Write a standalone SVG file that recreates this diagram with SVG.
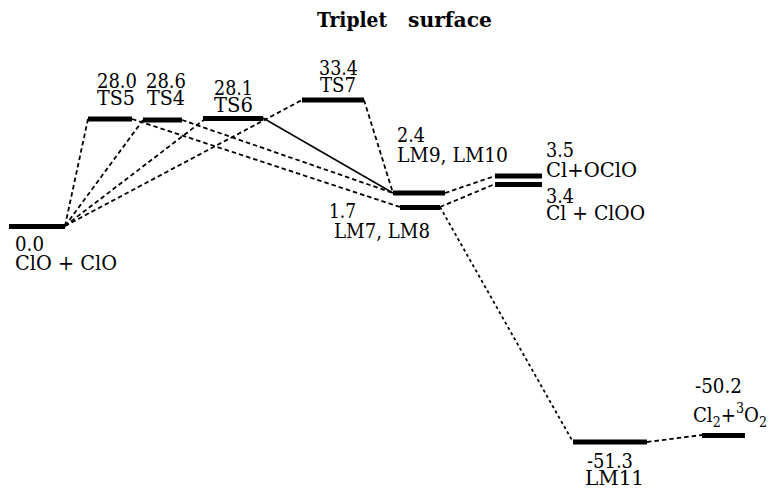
<svg xmlns="http://www.w3.org/2000/svg" width="771" height="489" viewBox="0 0 771 489">
<style>
text{font-family:'DejaVu Serif','Liberation Serif',serif;font-size:20px;fill:#000}
.title{font-weight:bold;font-size:20px}
.bar{stroke:#000;stroke-width:5;fill:none}
.d{stroke:#000;stroke-width:1.8;fill:none;stroke-dasharray:4.5 3}
.dot{stroke:#000;stroke-width:1.8;fill:none;stroke-dasharray:3 3}
.s{stroke:#000;stroke-width:1.5;fill:none}
</style>
<rect width="771" height="489" fill="#fff"/>
<text class="title" y="27"><tspan x="317" textLength="70" lengthAdjust="spacingAndGlyphs">Triplet</tspan><tspan x="408" textLength="84" lengthAdjust="spacingAndGlyphs">surface</tspan></text>
<g id="connectors">
<line class="d" x1="65" y1="226" x2="88" y2="119"/>
<line class="d" x1="65" y1="226" x2="143" y2="120"/>
<line class="d" x1="65" y1="226" x2="205" y2="119"/>
<line class="d" x1="65" y1="226" x2="302" y2="100"/>
<line class="d" x1="132" y1="119" x2="400" y2="207"/>
<line class="d" x1="182" y1="120" x2="393" y2="193"/>
<line class="s" x1="263" y1="118" x2="393" y2="193"/>
<line class="d" x1="364" y1="100" x2="393" y2="193"/>
<line class="d" x1="445" y1="193" x2="495" y2="176"/>
<line class="d" x1="440" y1="207" x2="495" y2="184"/>
<line class="dot" x1="440" y1="207" x2="573" y2="442"/>
<line class="d" x1="647" y1="442" x2="702" y2="435"/>
</g>
<g id="ClO_ClO"><line class="bar" x1="9" y1="226.5" x2="65" y2="226.5"/><text x="15" y="251" textLength="29" lengthAdjust="spacingAndGlyphs">0.0</text><text x="15" y="270" textLength="102" lengthAdjust="spacingAndGlyphs">ClO + ClO</text></g>
<g id="TS5"><line class="bar" x1="88" y1="119" x2="132" y2="119"/><text x="97" y="88" textLength="40" lengthAdjust="spacingAndGlyphs">28.0</text><text x="97" y="105" textLength="38" lengthAdjust="spacingAndGlyphs">TS5</text></g>
<g id="TS4"><line class="bar" x1="143" y1="120" x2="182" y2="120"/><text x="146" y="88" textLength="40" lengthAdjust="spacingAndGlyphs">28.6</text><text x="147" y="105" textLength="38" lengthAdjust="spacingAndGlyphs">TS4</text></g>
<g id="TS6"><line class="bar" x1="203" y1="118.5" x2="263" y2="118.5"/><text x="214" y="95" textLength="39" lengthAdjust="spacingAndGlyphs">28.1</text><text x="214" y="112" textLength="39" lengthAdjust="spacingAndGlyphs">TS6</text></g>
<g id="TS7"><line class="bar" x1="302" y1="100" x2="364" y2="100"/><text x="319" y="75" textLength="39" lengthAdjust="spacingAndGlyphs">33.4</text><text x="320" y="92" textLength="36" lengthAdjust="spacingAndGlyphs">TS7</text></g>
<g id="LM9_LM10"><line class="bar" x1="393" y1="193" x2="445" y2="193"/><text x="397" y="142" textLength="28" lengthAdjust="spacingAndGlyphs">2.4</text><text x="397" y="162" textLength="111" lengthAdjust="spacingAndGlyphs">LM9, LM10</text></g>
<g id="LM7_LM8"><line class="bar" x1="400" y1="207.5" x2="440" y2="207.5"/><text x="329" y="218" textLength="27" lengthAdjust="spacingAndGlyphs">1.7</text><text x="334" y="238" textLength="96" lengthAdjust="spacingAndGlyphs">LM7, LM8</text></g>
<g id="Cl_OClO"><line class="bar" x1="495" y1="176" x2="542" y2="176"/><text x="546" y="157" textLength="28" lengthAdjust="spacingAndGlyphs">3.5</text><text x="546" y="177" textLength="91" lengthAdjust="spacingAndGlyphs">Cl+OClO</text></g>
<g id="Cl_ClOO"><line class="bar" x1="495" y1="184.5" x2="542" y2="184.5"/><text x="546" y="203" textLength="28" lengthAdjust="spacingAndGlyphs">3.4</text><text x="546" y="220" textLength="99" lengthAdjust="spacingAndGlyphs">Cl + ClOO</text></g>
<g id="LM11"><line class="bar" x1="573" y1="442" x2="647" y2="442"/><text x="587" y="468" textLength="46" lengthAdjust="spacingAndGlyphs">-51.3</text><text x="585" y="485" textLength="59" lengthAdjust="spacingAndGlyphs">LM11</text></g>
<g id="Cl2_O2"><line class="bar" x1="702" y1="435.5" x2="745" y2="435.5"/><text x="695" y="393" textLength="47" lengthAdjust="spacingAndGlyphs">-50.2</text><text x="693" y="422" textLength="74" lengthAdjust="spacingAndGlyphs">Cl<tspan font-size="14" dy="5">2</tspan><tspan dy="-5">+</tspan><tspan font-size="14" dy="-9">3</tspan><tspan dy="9">O</tspan><tspan font-size="14" dy="5">2</tspan></text></g>
</svg>
